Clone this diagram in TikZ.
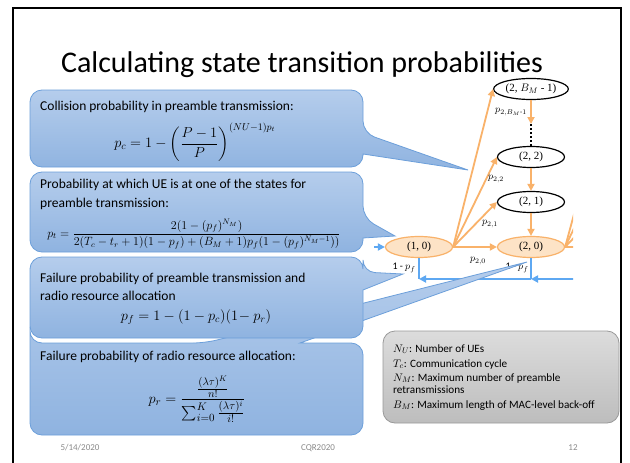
\documentclass[tikz,border=0pt]{standalone}
\usepackage{amsmath}
\usepackage{fontspec}
\setmainfont{Carlito}
\newfontfamily\chainfont{Liberation Serif}
\usetikzlibrary{shapes.geometric,arrows.meta}

\definecolor{calltop}{HTML}{B5CDEC}
\definecolor{callbot}{HTML}{8FB3E0}
\definecolor{callline}{HTML}{6C9FDA}
\definecolor{chainorange}{HTML}{F9B26A}
\definecolor{statefill}{HTML}{FDE3C6}
\definecolor{feedblue}{HTML}{5EA8F2}
\definecolor{notetop}{HTML}{DCDCDC}
\definecolor{notebot}{HTML}{BDBDBD}
\definecolor{footgray}{HTML}{8A8A8A}

\tikzset{
  callout/.style={draw=callline, line width=0.8pt, top color=calltop, bottom color=callbot, rounded corners=12pt},
  note/.style={draw=gray!80, line width=0.8pt, top color=notetop, bottom color=notebot, rounded corners=12pt},
  boxtext/.style={anchor=base west, inner sep=0pt, font=\fontsize{13.5}{16}\selectfont},
  formula/.style={inner sep=0pt},
  notetext/.style={anchor=base west, inner sep=0pt, font=\fontsize{11.2}{13}\selectfont},
  foot/.style={anchor=base, inner sep=0pt, text=footgray, font=\fontsize{9}{10}\selectfont},
  state/.style={ellipse, draw=black, line width=1.2pt, fill=white, minimum width=67pt, minimum height=21pt, inner sep=1pt, font=\chainfont\fontsize{11}{12}\selectfont},
  hot/.style={state, draw=chainorange, fill=statefill},
  trans/.style={chainorange, line width=1.8pt, -{Triangle[length=7pt,width=7pt]}},
  transline/.style={chainorange, line width=1.8pt},
  back/.style={feedblue, line width=1.8pt},
  backarr/.style={back, -{Triangle[length=7pt,width=7pt]}},
  plab/.style={inner sep=0pt, font=\fontsize{10}{11}\selectfont},
}

\begin{document}
\begin{tikzpicture}[x=1pt, y=-1pt]
	\useasboundingbox (0,0) rectangle (630,463);
	\fill[white] (0,0) rectangle (630,463);
	% slide frame and title
	\draw[line width=1.6pt] (13,470) |- (621,8) -- (621,470);
	\node[anchor=base, inner sep=0pt, font=\fontsize{30}{32}\selectfont] (title) at (302,72) {Calculating state transition probabilities};

	% Markov chain
	\node[state] (s2B) at (531,89) {(2, $B_M$ - 1)};
	\node[state] (s22) at (531,157) {(2, 2)};
	\node[state] (s21) at (531,202) {(2, 1)};
	\node[hot] (s20) at (531,247) {(2, 0)};
	\node[hot] (s10) at (419,247) {(1, 0)};
	\coordinate (d1) at (531,124);
	\coordinate (d2) at (531,146);
	\draw[trans] (s2B) -- (d1);
	\draw[line width=2pt, dotted] (d1) -- (d2);
	\draw[trans] (s22) -- (s21);
	\draw[trans] (s21) -- (s20);
	\foreach \t in {s20, s21, s22, s2B} {\draw[trans] (s10.east) -- (\t.west);}
	\begin{scope}
		\clip (0,0) rectangle (573,463);
		\draw[transline] (s20.east) -- ++(20,0);
		\foreach \dx/\dy in {42/-44, 43/-90, 43/-158} {\draw[transline] (s20.east) -- ++(\dx,\dy);}
		\coordinate (b0) at (590,279);
		\coordinate (b1) at (s10.south |- 0,279);
		\coordinate (b2) at (s20.south |- 0,279);
		\draw[back] (s10.south) -- (b1);
		\draw[back] (s20.south) -- (b2);
		\draw[backarr] (b0) -- (b2);
		\draw[backarr] (b2) -- (b1);
	\end{scope}
	\coordinate (lin) at (374,247);
	\draw[backarr] (lin) -- (s10.west);
	\node[plab] (l2B) at (511,112) {$p_{2,B_M\text{-}1}$};
	\node[plab] (l22) at (496,179) {$p_{2,2}$};
	\node[plab] (l21) at (490,224) {$p_{2,1}$};
	\node[plab] (l20) at (478,261) {$p_{2,0}$};
	\node[plab] (f1) at (404,268) {1 - $p_f$};
	\node[plab] (f2) at (517,268) {1 - $p_f$};

	% callouts
	\path[callout] (30,320) |- (205,343) [sharp corners] -- (527,262) -- (300,343) [rounded corners=12pt] -- (363,343) |- (30,435) -- cycle;
	\path[callout] (30,300) |- (363,257) -- (363,272) [sharp corners] -- (403,274) -- (363,290) [rounded corners=12pt] |- (30,338) -- cycle;
	\path[callout] (30,210) |- (363,172) -- (363,218) [sharp corners] -- (395,236) -- (363,238) [rounded corners=12pt] |- (30,252) -- cycle;
	\path[callout] (30,120) |- (363,90) -- (363,133) [sharp corners] -- (468,170) -- (363,154) [rounded corners=12pt] |- (30,167) -- cycle;

	\node[boxtext] (h1) at (40,110) {Collision probability in preamble transmission:};
	\node[formula, font=\fontsize{14}{16}\selectfont] (pc) at (195,142) {$\displaystyle p_c = 1-\left(\frac{P-1}{P}\right)^{(NU-1)p_t}$};
	\node[boxtext] (h2) at (40,188) {Probability at which UE is at one of the states for};
	\node[boxtext] (h2b) at (40,207) {preamble transmission:};
	\node[formula, font=\fontsize{12}{13}\selectfont] (pt) at (194,234) {$\displaystyle p_t=\frac{2(1-(p_f)^{N_M})}{2(T_c-t_r+1)(1-p_f)+(B_M+1)p_f(1-(p_f)^{N_M-1}))}$};
	\node[boxtext] (h3) at (40,282) {Failure probability of preamble transmission and};
	\node[boxtext] (h3b) at (40,300) {radio resource allocation};
	\node[formula, anchor=base, font=\fontsize{14}{16}\selectfont] (pf) at (196,320) {$p_f = 1-(1-p_c)(1\!- p_r)$};
	\node[boxtext] (h4) at (40,360) {Failure probability of radio resource allocation:};
	\node[formula, font=\fontsize{15.5}{17}\selectfont] (pr) at (197,399) {$\displaystyle p_r=\frac{\frac{(\lambda\tau)^K}{n!}}{\sum_{i=0}^{K}\frac{(\lambda\tau)^i}{i!}}$};

	% legend
	\path[note] (383,331) rectangle (619,423);
	\node[notetext] (n1) at (393,352) {$N_U$: Number of UEs};
	\node[notetext] (n2) at (393,367) {$T_c$: Communication cycle};
	\node[notetext] (n3) at (393,381) {$N_M$: Maximum number of preamble};
	\node[notetext] (n3b) at (393,393) {retransmissions};
	\node[notetext] (n4) at (393,408) {$B_M$: Maximum length of MAC-level back-off};

	% footer
	\node[foot] (date) at (80,450) {5/14/2020};
	\node[foot] (conf) at (318,450) {CQR2020};
	\node[foot] (page) at (573,450) {12};
\end{tikzpicture}
\end{document}
